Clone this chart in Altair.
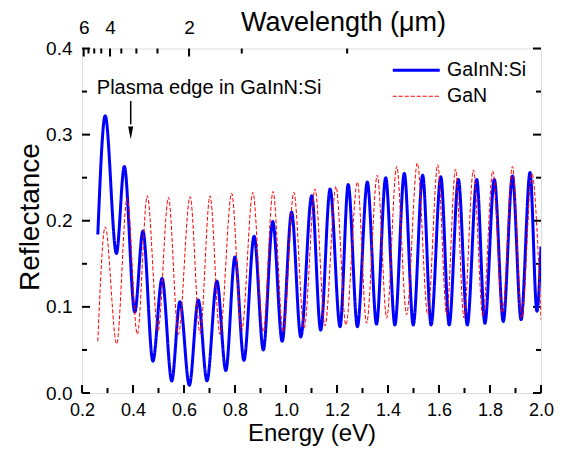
import altair as alt
import pandas as pd

# ---- data (extrema of the interference fringes) ----
gainn_energy = [0.262, 0.291, 0.335, 0.366, 0.407, 0.439, 0.478, 0.514, 0.552, 0.584,
                0.621, 0.656, 0.690, 0.729, 0.764, 0.800, 0.835, 0.875, 0.911, 0.948,
                0.985, 1.022, 1.058, 1.101, 1.136, 1.173, 1.212, 1.244, 1.280, 1.319,
                1.355, 1.391, 1.427, 1.464, 1.499, 1.536, 1.569, 1.607, 1.640, 1.676,
                1.711, 1.748, 1.780, 1.817, 1.852, 1.888, 1.922, 1.957, 1.984, 2.000]
gainn_refl = [0.184, 0.322, 0.162, 0.263, 0.094, 0.188, 0.037, 0.133, 0.014, 0.106,
              0.009, 0.108, 0.014, 0.130, 0.026, 0.158, 0.038, 0.182, 0.050, 0.199,
              0.060, 0.210, 0.065, 0.229, 0.073, 0.237, 0.077, 0.242, 0.077, 0.245,
              0.080, 0.250, 0.079, 0.255, 0.079, 0.253, 0.079, 0.251, 0.079, 0.248,
              0.079, 0.248, 0.081, 0.248, 0.083, 0.252, 0.085, 0.256, 0.095, 0.170]

gan_energy = [0.262, 0.291, 0.336, 0.377, 0.417, 0.456, 0.498, 0.539, 0.578, 0.624,
              0.663, 0.702, 0.741, 0.787, 0.826, 0.870, 0.911, 0.949, 0.989, 1.031,
              1.071, 1.114, 1.153, 1.196, 1.235, 1.280, 1.316, 1.358, 1.395, 1.434,
              1.473, 1.515, 1.556, 1.595, 1.630, 1.665, 1.698, 1.735, 1.772, 1.811,
              1.849, 1.888, 1.925, 1.964, 2.000]
gan_refl = [0.060, 0.193, 0.057, 0.226, 0.068, 0.229, 0.072, 0.227, 0.068, 0.228,
            0.069, 0.229, 0.068, 0.232, 0.072, 0.233, 0.071, 0.234, 0.071, 0.233,
            0.075, 0.237, 0.078, 0.240, 0.079, 0.245, 0.081, 0.253, 0.087, 0.263,
            0.091, 0.267, 0.091, 0.265, 0.091, 0.260, 0.087, 0.259, 0.089, 0.258,
            0.093, 0.263, 0.087, 0.255, 0.085]

series_names = ["GaInN:Si", "GaN"]
series_colors = ["#0000ff", "#ff0000"]

energy_ticks = [0.2, 0.3, 0.4, 0.5, 0.6, 0.7, 0.8, 0.9, 1.0, 1.1, 1.2, 1.3, 1.4,
                1.5, 1.6, 1.7, 1.8, 1.9, 2.0]
energy_labels = [0.2, 0.4, 0.6, 0.8, 1.0, 1.2, 1.4, 1.6, 1.8, 2.0]
refl_ticks = [0.0, 0.05, 0.1, 0.15, 0.2, 0.25, 0.3, 0.35, 0.4]
refl_labels = [0.0, 0.1, 0.2, 0.3, 0.4]
wl_major = [6, 4, 2]
wl_minor = [5.5, 5, 4.5, 3.5, 3, 2.5, 1.5, 1]
HC = 1.2398  # eV*um

annot_text = "Plasma edge in GaInN:Si"
annot_E, annot_R = 0.258, 0.347
arrow_E, arrow_R0, arrow_R1, arrow_tip = 0.391, 0.339, 0.312, 0.302

# ---- chart ----
W, H = 459, 344.5
FONT = "Liberation Sans"
MAJ, MIN = 8, 5
TICKFS = 19

xs = alt.Scale(domain=[0.2, 2.0], nice=False, zero=False)
ys = alt.Scale(domain=[0.0, 0.4], nice=False, zero=False)

x_axis = alt.Axis(orient="bottom", values=energy_labels, format=".1f", ticks=False, tickSize=0,
                  domain=False, grid=False, labelFont=FONT, labelFontSize=18, labelColor="black",
                  labelBaseline="alphabetic", labelPadding=22, labelFlush=False, labelOverlap=False,
                  title="Energy (eV)", titleFont=FONT, titleFontSize=24, titleFontWeight="normal",
                  titleColor="black", titleX=W / 2, titleY=47.8, titleBaseline="alphabetic",
                  titleAlign="center")
y_axis = alt.Axis(orient="left", values=refl_labels, format=".1f", ticks=False, tickSize=0,
                  domain=False, grid=False, labelFont=FONT, labelFontSize=TICKFS, labelColor="black",
                  labelPadding=10, labelOverlap=False, labelFlush=False,
                  title="Reflectance", titleFont=FONT, titleFontSize=28, titleFontWeight="normal",
                  titleColor="black", titleAngle=270, titleX=-44, titleY=168,
                  titleBaseline="alphabetic", titleAlign="center")
top_axis = alt.Axis(orient="top", values=[HC / w for w in wl_major],
                    labelExpr="format(1.2398 / datum.value, '.0f')", ticks=False, tickSize=0,
                    domain=False, grid=False, labelFont=FONT, labelFontSize=TICKFS, labelColor="black",
                    labelBaseline="alphabetic", labelPadding=15, labelFlush=False, labelOverlap=False,
                    title="Wavelength (\u03bcm)", titleFont=FONT, titleFontSize=27,
                    titleFontWeight="normal", titleColor="black", titleX=261, titleY=-18.5,
                    titleBaseline="alphabetic", titleAlign="center")

legend = alt.Legend(title=None, orient="none", legendX=324.5, legendY=12, symbolType="M-4,0H4",
                    symbolSize=138, labelFont=FONT, labelFontSize=19.5, labelColor="black",
                    labelOffset=21, rowPadding=5, padding=0)

blue_df = pd.DataFrame({"E": gainn_energy, "R": gainn_refl, "s": series_names[0]})
red_df = pd.DataFrame({"E": gan_energy, "R": gan_refl, "s": series_names[1]})


def X(field):
    return alt.X(field, scale=xs, axis=x_axis)


def Y(field):
    return alt.Y(field, scale=ys, axis=y_axis)


def line_layer(df):
    return alt.Chart(df).mark_line(interpolate="monotone", clip=True).encode(
        x=X("E:Q"),
        y=Y("R:Q"),
        color=alt.Color("s:N", scale=alt.Scale(domain=series_names, range=series_colors), legend=legend),
        strokeDash=alt.StrokeDash("s:N", scale=alt.Scale(domain=series_names, range=[[1, 0], [4, 2]]),
                                  legend=legend),
        strokeWidth=alt.StrokeWidth("s:N", scale=alt.Scale(domain=series_names, range=[3, 1]),
                                    legend=legend),
    )


xt = pd.DataFrame({"v": energy_ticks})
xt["major"] = [abs(v * 5 - round(v * 5)) < 1e-6 for v in energy_ticks]
yt = pd.DataFrame({"v": refl_ticks})
yt["major"] = [abs(v * 10 - round(v * 10)) < 1e-6 for v in refl_ticks]

rule = dict(color="black", strokeWidth=2)


def xticks(filt, y0, y1):
    return alt.Chart(xt).transform_filter(filt).mark_rule(**rule).encode(
        x=X("v:Q"), y=alt.value(y0), y2=alt.value(y1))


def yticks(filt, x0, x1):
    return alt.Chart(yt).transform_filter(filt).mark_rule(**rule).encode(
        y=Y("v:Q"), x=alt.value(x0), x2=alt.value(x1))


tick_layers = [
    xticks("datum.major", H, H - MAJ), xticks("!datum.major", H, H - MIN),
    yticks("datum.major", 0, MAJ), yticks("!datum.major", 0, MIN),
    yticks("datum.major", W, W - MAJ), yticks("!datum.major", W, W - MIN),
]

annot = alt.Chart(pd.DataFrame({"E": [annot_E], "R": [annot_R], "t": [annot_text]})).mark_text(
    align="left", baseline="alphabetic", font=FONT, fontSize=20, color="black").encode(
    x=X("E:Q"), y=Y("R:Q"), text="t:N")
arrow_line = alt.Chart(pd.DataFrame({"E": [arrow_E], "R0": [arrow_R0], "R1": [arrow_R1]})).mark_rule(
    color="black", strokeWidth=1.5).encode(
    x=X("E:Q"), y=Y("R0:Q"), y2="R1:Q")
arrow_head = alt.Chart(pd.DataFrame({"E": [arrow_E], "R": [arrow_tip]})).mark_point(
    shape="M-0.4,-1L0.4,-1L0,1Z", filled=True, size=161, color="black", opacity=1).encode(
    x=X("E:Q"), y=Y("R:Q"))

inner = alt.layer(*tick_layers, line_layer(blue_df), line_layer(red_df), annot, arrow_line, arrow_head)

top_df = pd.DataFrame({"E": [HC / w for w in wl_major]})
top_minor_df = pd.DataFrame({"E": [HC / w for w in wl_minor]})
top_major = alt.Chart(top_df).mark_rule(**rule).encode(
    x=alt.X("E:Q", scale=xs, axis=top_axis), y=alt.value(0), y2=alt.value(MAJ))
top_minor = alt.Chart(top_minor_df).mark_rule(**rule).encode(
    x=alt.X("E:Q", scale=xs, axis=top_axis), y=alt.value(0), y2=alt.value(MIN))
top_group = alt.layer(top_major, top_minor)

chart = alt.layer(inner, top_group).resolve_scale(x="independent").properties(
    width=W, height=H,
    autosize=alt.AutoSizeParams(type="none"),
    padding={"left": 74, "top": 40.5, "right": 18, "bottom": 53},
).configure_view(stroke="black", strokeWidth=2).configure(font=FONT)

chart.save("out.html", embed_options={"renderer": "svg", "actions": False})
